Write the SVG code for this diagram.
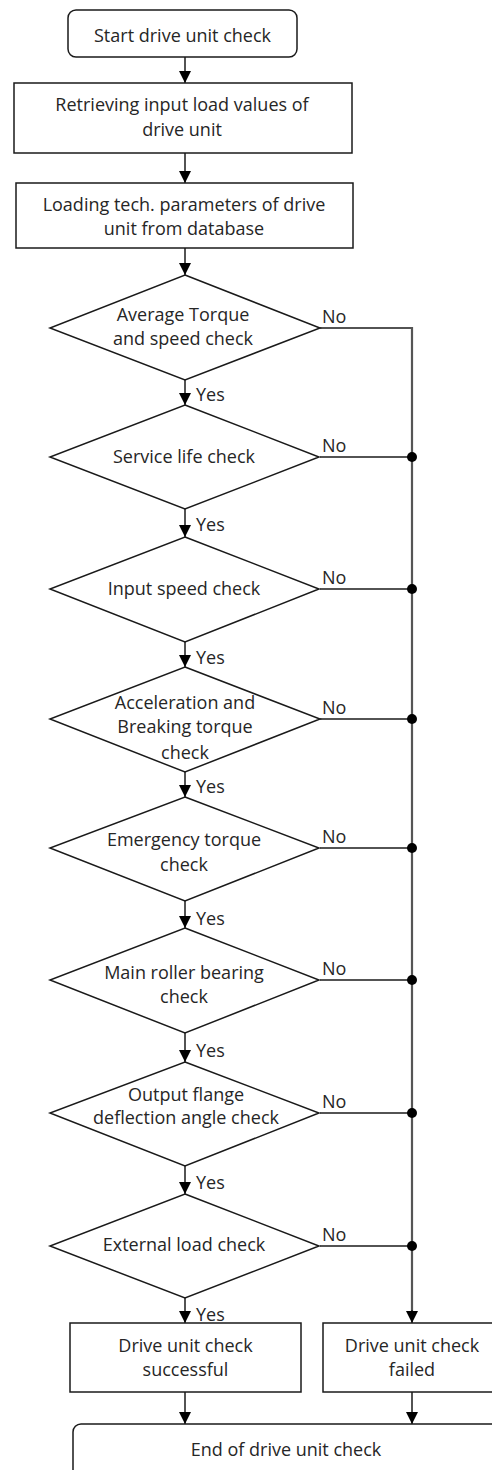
<svg xmlns="http://www.w3.org/2000/svg" width="492" height="1470" viewBox="0 0 492 1470">
<style>
.s{fill:#fff;stroke:#1a1a1a;stroke-width:1.5}
.t{font-family:"Open Sans","DejaVu Sans",sans-serif;font-size:18px;fill:#262626;text-anchor:middle}
.l{font-family:"Open Sans","DejaVu Sans",sans-serif;font-size:18px;fill:#262626}
.c{fill:none;stroke:#1a1a1a;stroke-width:1.5}
.bus{fill:none;stroke:#555;stroke-width:2.2}
.d{fill:#000}
</style>
<defs>
<marker id="ah" markerUnits="userSpaceOnUse" markerWidth="12" markerHeight="12" viewBox="0 0 12 12" refX="12" refY="6" orient="auto">
<path d="M0,0 L12,6 L0,12 Z" fill="#000"/>
</marker>
</defs>
<rect width="492" height="1470" fill="#fff"/>
<g id="connectors">
<line class="c" x1="185" y1="57" x2="185" y2="83" marker-end="url(#ah)"/>
<line class="c" x1="185" y1="153" x2="185" y2="183" marker-end="url(#ah)"/>
<line class="c" x1="185" y1="248" x2="185" y2="275" marker-end="url(#ah)"/>
<line class="c" x1="185" y1="380" x2="185" y2="405" marker-end="url(#ah)"/>
<line class="c" x1="185" y1="509" x2="185" y2="537" marker-end="url(#ah)"/>
<line class="c" x1="185" y1="642" x2="185" y2="667" marker-end="url(#ah)"/>
<line class="c" x1="185" y1="772" x2="185" y2="797" marker-end="url(#ah)"/>
<line class="c" x1="185" y1="901" x2="185" y2="928" marker-end="url(#ah)"/>
<line class="c" x1="185" y1="1033" x2="185" y2="1062" marker-end="url(#ah)"/>
<line class="c" x1="185" y1="1166" x2="185" y2="1194" marker-end="url(#ah)"/>
<line class="c" x1="185" y1="1298" x2="185" y2="1323" marker-end="url(#ah)"/>
<line class="c" x1="185" y1="1392" x2="185" y2="1424" marker-end="url(#ah)"/>
<line class="c" x1="412" y1="1392" x2="412" y2="1424" marker-end="url(#ah)"/>
<line class="c" x1="320" y1="328" x2="412" y2="328"/>
<line class="c" x1="320" y1="457" x2="412" y2="457"/>
<line class="c" x1="320" y1="589" x2="412" y2="589"/>
<line class="c" x1="320" y1="719" x2="412" y2="719"/>
<line class="c" x1="320" y1="848" x2="412" y2="848"/>
<line class="c" x1="320" y1="980" x2="412" y2="980"/>
<line class="c" x1="320" y1="1113" x2="412" y2="1113"/>
<line class="c" x1="320" y1="1246" x2="412" y2="1246"/>
<line class="bus" x1="412" y1="327" x2="412" y2="1312"/>
<line class="c" x1="412" y1="1310" x2="412" y2="1323" marker-end="url(#ah)"/>
<circle class="d" cx="412" cy="457" r="5"/>
<circle class="d" cx="412" cy="589" r="5"/>
<circle class="d" cx="412" cy="719" r="5"/>
<circle class="d" cx="412" cy="848" r="5"/>
<circle class="d" cx="412" cy="980" r="5"/>
<circle class="d" cx="412" cy="1113" r="5"/>
<circle class="d" cx="412" cy="1246" r="5"/>
<text class="l" x="322" y="323">No</text>
<text class="l" x="322" y="452">No</text>
<text class="l" x="322" y="584">No</text>
<text class="l" x="322" y="714">No</text>
<text class="l" x="322" y="843">No</text>
<text class="l" x="322" y="975">No</text>
<text class="l" x="322" y="1108">No</text>
<text class="l" x="322" y="1241">No</text>
<text class="l" x="196" y="401">Yes</text>
<text class="l" x="196" y="531">Yes</text>
<text class="l" x="196" y="664">Yes</text>
<text class="l" x="196" y="793">Yes</text>
<text class="l" x="196" y="925">Yes</text>
<text class="l" x="196" y="1057">Yes</text>
<text class="l" x="196" y="1189">Yes</text>
<text class="l" x="196" y="1321">Yes</text>
</g>
<g id="start">
<rect class="s" x="68" y="10" width="229" height="47" rx="8"/>
<text class="t" x="182.5" y="42">Start drive unit check</text>
</g>
<g id="retrieve">
<rect class="s" x="14" y="83" width="338" height="70"/>
<text class="t" x="182" y="111">Retrieving input load values of</text>
<text class="t" x="182" y="136">drive unit</text>
</g>
<g id="load">
<rect class="s" x="16" y="183" width="337" height="65"/>
<text class="t" x="184" y="211">Loading tech. parameters of drive</text>
<text class="t" x="184" y="235">unit from database</text>
</g>
<g id="d1">
<polygon class="s" points="185,275 320,328 185,380 50,328"/>
<text class="t" x="183" y="321">Average Torque</text>
<text class="t" x="183" y="345">and speed check</text>
</g>
<g id="d2">
<polygon class="s" points="185,405 319,457 185,509 50,457"/>
<text class="t" x="184" y="463">Service life check</text>
</g>
<g id="d3">
<polygon class="s" points="185,537 319,589 185,642 50,589"/>
<text class="t" x="184" y="595">Input speed check</text>
</g>
<g id="d4">
<polygon class="s" points="185,667 320,719 185,772 50,719"/>
<text class="t" x="185" y="709">Acceleration and</text>
<text class="t" x="185" y="733">Breaking torque</text>
<text class="t" x="185" y="759">check</text>
</g>
<g id="d5">
<polygon class="s" points="185,797 319,848 185,901 50,848"/>
<text class="t" x="184" y="846">Emergency torque</text>
<text class="t" x="184" y="871">check</text>
</g>
<g id="d6">
<polygon class="s" points="185,928 319,980 185,1033 50,980"/>
<text class="t" x="184" y="979">Main roller bearing</text>
<text class="t" x="184" y="1003">check</text>
</g>
<g id="d7">
<polygon class="s" points="185,1062 319,1113 185,1166 50,1113"/>
<text class="t" x="186" y="1101">Output flange</text>
<text class="t" x="186" y="1124">deflection angle check</text>
</g>
<g id="d8">
<polygon class="s" points="185,1194 319,1246 185,1298 50,1246"/>
<text class="t" x="184" y="1251">External load check</text>
</g>
<g id="success">
<rect class="s" x="70" y="1323" width="231" height="69"/>
<text class="t" x="185.5" y="1352">Drive unit check</text>
<text class="t" x="185.5" y="1376">successful</text>
</g>
<g id="failed">
<rect class="s" x="323" y="1323" width="178" height="69"/>
<text class="t" x="412" y="1352">Drive unit check</text>
<text class="t" x="412" y="1376">failed</text>
</g>
<g id="end">
<rect class="s" x="73" y="1424" width="426" height="54" rx="8"/>
<text class="t" x="286" y="1456">End of drive unit check</text>
</g>
</svg>
